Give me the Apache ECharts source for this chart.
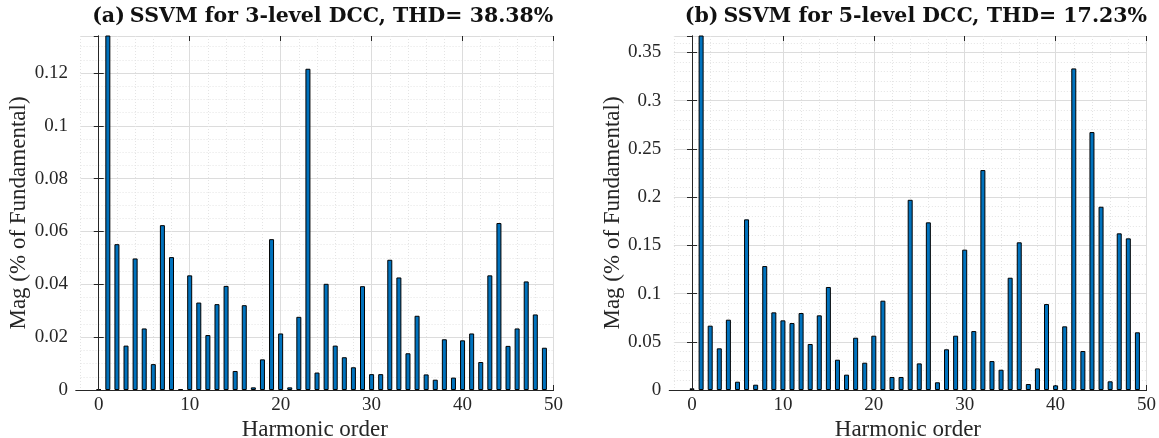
<!DOCTYPE html>
<html><head><meta charset="utf-8">
<script src="https://cdn.jsdelivr.net/npm/echarts@6/dist/echarts.min.js"></script>
<style>html,body{margin:0;padding:0;background:#fff}#c{width:1159px;height:438px}</style>
</head><body><div id="c"></div>
<script>
// ---- data ----
const harmonicOrders = [0,1,2,3,4,5,6,7,8,9,10,11,12,13,14,15,16,17,18,19,20,21,22,23,24,25,26,27,28,29,30,31,32,33,34,35,36,37,38,39,40,41,42,43,44,45,46,47,48,49];
const magThreeLevel = [0.0002,1.0,0.0552,0.0168,0.0498,0.0233,0.0098,0.0624,0.0503,0.0003,
  0.0434,0.0331,0.0208,0.0325,0.0394,0.0072,0.0321,0.0010,0.0116,0.0571,
  0.0214,0.0010,0.0277,0.1216,0.0066,0.0402,0.0168,0.0124,0.0086,0.0393,
  0.0060,0.0060,0.0493,0.0426,0.0139,0.0281,0.0059,0.0039,0.0192,0.0047,
  0.0188,0.0214,0.0106,0.0434,0.0632,0.0167,0.0233,0.0411,0.0286,0.0160];
const magFiveLevel = [0.0017,1.0,0.0667,0.0432,0.0729,0.0086,0.1769,0.0055,0.1285,0.0805,
  0.0722,0.0694,0.0798,0.0477,0.0774,0.1068,0.0314,0.0159,0.0542,0.0283,
  0.0563,0.0926,0.0135,0.0135,0.1972,0.0276,0.1738,0.0080,0.0422,0.0563,
  0.1455,0.0611,0.2280,0.0300,0.0210,0.1164,0.1531,0.0062,0.0224,0.0891,
  0.0048,0.0660,0.3334,0.0404,0.2674,0.1900,0.0090,0.1624,0.1572,0.0598];
const titleTags = ['(a)', '(b)'];
const titleTexts = ['SSVM for 3-level DCC, THD= 38.38%', 'SSVM for 5-level DCC, THD= 17.23%'];
const xAxisName = 'Harmonic order';
const yAxisName = 'Mag (% of Fundamental)';

// ---- layout / style ----
const W = 1159, H = 438;
const TOP = 36, BOTTOM = 48;
const XMIN = -2.5, XMAX = 50;
const panels = [
  {left: 76, rightEdge: 553.5, data: magThreeLevel, ymax: 0.134, yint: 0.02, yminor: 4},
  {left: 669.3, rightEdge: 1146.5, data: magFiveLevel, ymax: 0.367, yint: 0.05, yminor: 5}
];
const FONT = 'Liberation Serif';
const TXT = '#262626';
const MAJOR = '#dcdcdc';
const MINOR = '#e4e4e4';

const option = {
  animation: false, backgroundColor: '#fff',
  title: [], grid: [], xAxis: [], yAxis: [], series: []
};

panels.forEach((p, k) => {
  const ppu = (p.rightEdge - p.left) / (XMAX - XMIN);
  const right = W - p.rightEdge;
  const gridBase = {top: TOP, bottom: BOTTOM, right: right, containLabel: false, outerBoundsMode: 'none'};
  const gF = option.grid.length;
  option.grid.push(Object.assign({left: p.left}, gridBase));
  const gM = option.grid.length;
  option.grid.push(Object.assign({left: p.left + (-2 - XMIN) * ppu}, gridBase));
  const gJ = option.grid.length;
  option.grid.push(Object.assign({left: p.left + (0 - XMIN) * ppu}, gridBase));

  // title
  option.title.push({
    text: '{n|' + titleTags[k] + '} {b|' + titleTexts[k] + '}',
    left: (p.left + p.rightEdge) / 2 + 3, top: 1, textAlign: 'center',
    textStyle: {
      rich: {
        n: {fontFamily: 'DejaVu Serif', fontSize: 20.5, color: '#111'},
        b: {fontFamily: 'DejaVu Serif', fontSize: 20.5, fontWeight: 'bold', color: '#111'}
      }
    }
  });

  // frame axes
  const frameLine = {show: true, lineStyle: {color: TXT, width: 1}};
  option.xAxis.push({
    type: 'value', gridIndex: gF, min: XMIN, max: XMAX, position: 'bottom', z: 5,
    axisLine: frameLine, axisTick: {show: false}, axisLabel: {show: false}, splitLine: {show: false},
    name: xAxisName, nameLocation: 'middle', nameGap: 28,
    nameTextStyle: {fontFamily: FONT, fontSize: 23, color: TXT}
  });
  option.xAxis.push({
    type: 'value', gridIndex: gF, min: XMIN, max: XMAX, position: 'top', z: 5,
    axisLine: frameLine, axisTick: {show: false}, axisLabel: {show: false}, splitLine: {show: false}
  });
  option.yAxis.push({
    type: 'value', gridIndex: gF, min: 0, max: p.ymax, interval: p.yint, position: 'left', z: 5,
    axisLine: frameLine, axisTick: {show: true, inside: true, length: 5, lineStyle: {color: TXT}},
    axisLabel: {show: true, margin: 8, showMaxLabel: false, fontFamily: FONT, fontSize: 19, color: TXT},
    splitLine: {show: false},
    name: yAxisName, nameLocation: 'middle', nameGap: 44, nameRotate: 90,
    nameTextStyle: {fontFamily: FONT, fontSize: 23, color: TXT}
  });
  option.yAxis.push({
    type: 'value', gridIndex: gF, min: 0, max: p.ymax, interval: p.yint, position: 'right', z: 5,
    axisLine: frameLine, axisTick: {show: true, inside: true, length: 5, lineStyle: {color: TXT}},
    axisLabel: {show: false}, splitLine: {show: false}
  });

  // minor grid axes (x from -2, every 2) + horizontal grid lines
  const xM = option.xAxis.length;
  option.xAxis.push({
    type: 'value', gridIndex: gM, min: -2, max: XMAX, interval: 2,
    axisLine: {show: false}, axisTick: {show: false}, axisLabel: {show: false},
    splitLine: {show: true, lineStyle: {color: MINOR, type: [1, 2], width: 1}}
  });
  const yM = option.yAxis.length;
  option.yAxis.push({
    type: 'value', gridIndex: gM, min: 0, max: p.ymax, interval: p.yint,
    axisLine: {show: false}, axisTick: {show: false}, axisLabel: {show: false},
    splitLine: {show: true, lineStyle: {color: MAJOR, width: 1}},
    minorTick: {show: false, splitNumber: p.yminor},
    minorSplitLine: {show: true, lineStyle: {color: MINOR, type: [1, 2], width: 1}}
  });

  // major grid axes (x from 0, every 10)
  option.xAxis.push({
    type: 'value', gridIndex: gJ, min: 0, max: XMAX, interval: 10, position: 'bottom',
    axisLine: {show: false},
    axisTick: {show: true, inside: true, length: 5, lineStyle: {color: TXT}},
    axisLabel: {show: true, margin: 6, fontFamily: FONT, fontSize: 19, color: TXT},
    splitLine: {show: true, lineStyle: {color: MAJOR, width: 1}}
  });
  option.xAxis.push({
    type: 'value', gridIndex: gJ, min: 0, max: XMAX, interval: 10, position: 'top',
    axisLine: {show: false},
    axisTick: {show: true, inside: true, length: 5, lineStyle: {color: TXT}},
    axisLabel: {show: false}, splitLine: {show: false}
  });
  option.yAxis.push({type: 'value', gridIndex: gJ, min: 0, max: p.ymax, show: false});

  option.series.push({
    type: 'bar', xAxisIndex: xM, yAxisIndex: yM, clip: true, barWidth: 5,
    itemStyle: {color: '#0072BD', borderColor: '#000', borderWidth: 1},
    data: harmonicOrders.map((h, i) => [h, p.data[i]])
  });
});

const chart = echarts.init(document.getElementById('c'), null, {renderer: 'canvas'});
chart.setOption(option);
</script>
</body></html>
